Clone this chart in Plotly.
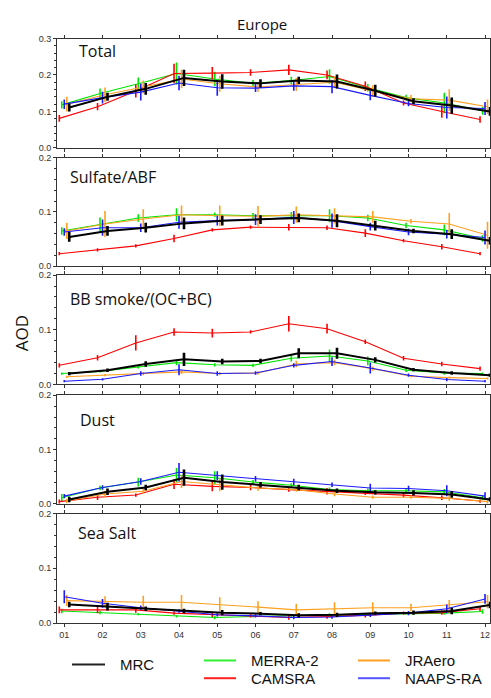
import plotly.graph_objects as go

W, H = 491, 698

months = list(range(1, 13))
month_labels = ["01", "02", "03", "04", "05", "06", "07", "08", "09", "10", "11", "12"]
panel_names = ["Total", "Sulfate/ABF", "BB smoke/(OC+BC)", "Dust", "Sea Salt"]
model_names = ["MRC", "MERRA-2", "CAMSRA", "JRAero", "NAAPS-RA"]

# ---- Total ----
mrc_total = [0.111, 0.140, 0.162, 0.192, 0.182, 0.177, 0.185, 0.182, 0.157, 0.128, 0.116, 0.100]
mrc_total_err = [0.011, 0.011, 0.016, 0.022, 0.020, 0.011, 0.010, 0.019, 0.016, 0.008, 0.022, 0.012]
merra_total = [0.118, 0.149, 0.176, 0.204, 0.189, 0.177, 0.185, 0.196, 0.165, 0.138, 0.123, 0.102]
merra_total_err = [0.010, 0.014, 0.017, 0.030, 0.020, 0.009, 0.010, 0.020, 0.010, 0.008, 0.028, 0.011]
cams_total = [0.081, 0.113, 0.156, 0.204, 0.205, 0.207, 0.214, 0.200, 0.169, 0.123, 0.100, 0.078]
cams_total_err = [0.009, 0.010, 0.018, 0.027, 0.017, 0.009, 0.014, 0.012, 0.013, 0.007, 0.017, 0.009]
jra_total = [0.120, 0.146, 0.167, 0.189, 0.176, 0.167, 0.174, 0.180, 0.156, 0.135, 0.131, 0.113]
jra_total_err = [0.020, 0.020, 0.018, 0.025, 0.022, 0.013, 0.018, 0.016, 0.016, 0.010, 0.030, 0.020]
naaps_total = [0.120, 0.138, 0.153, 0.178, 0.165, 0.164, 0.170, 0.168, 0.144, 0.122, 0.111, 0.108]
naaps_total_err = [0.013, 0.016, 0.023, 0.020, 0.022, 0.011, 0.013, 0.018, 0.013, 0.008, 0.030, 0.018]

# ---- Sulfate/ABF ----
mrc_sulf = [0.054, 0.065, 0.071, 0.079, 0.084, 0.086, 0.089, 0.084, 0.075, 0.065, 0.059, 0.047]
mrc_sulf_err = [0.009, 0.009, 0.009, 0.011, 0.009, 0.008, 0.008, 0.012, 0.009, 0.004, 0.009, 0.007]
merra_sulf = [0.065, 0.077, 0.089, 0.095, 0.095, 0.093, 0.093, 0.093, 0.089, 0.075, 0.067, 0.051]
merra_sulf_err = [0.007, 0.013, 0.007, 0.012, 0.004, 0.005, 0.007, 0.012, 0.006, 0.005, 0.010, 0.006]
cams_sulf = [0.023, 0.030, 0.0375, 0.051, 0.067, 0.072, 0.072, 0.071, 0.061, 0.047, 0.036, 0.023]
cams_sulf_err = [0.003, 0.003, 0.003, 0.007, 0.003, 0.003, 0.006, 0.004, 0.007, 0.003, 0.005, 0.003]
jra_sulf = [0.065, 0.078, 0.087, 0.095, 0.093, 0.092, 0.095, 0.093, 0.091, 0.083, 0.078, 0.057]
jra_sulf_err = [0.015, 0.024, 0.018, 0.017, 0.019, 0.019, 0.015, 0.014, 0.011, 0.004, 0.020, 0.025]
naaps_sulf = [0.063, 0.071, 0.071, 0.081, 0.084, 0.086, 0.090, 0.084, 0.073, 0.063, 0.059, 0.053]
naaps_sulf_err = [0.007, 0.015, 0.008, 0.012, 0.009, 0.010, 0.012, 0.013, 0.007, 0.006, 0.008, 0.013]

# ---- BB smoke/(OC+BC) ----
mrc_bb = [0.020, 0.026, 0.0375, 0.046, 0.042, 0.043, 0.057, 0.057, 0.045, 0.027, 0.021, 0.017]
mrc_bb_err = [0.003, 0.003, 0.005, 0.012, 0.005, 0.004, 0.009, 0.010, 0.005, 0.003, 0.003, 0.003]
merra_bb = [0.020, 0.024, 0.032, 0.040, 0.036, 0.035, 0.048, 0.052, 0.043, 0.026, 0.021, 0.020]
merra_bb_err = [0.002, 0.002, 0.003, 0.005, 0.003, 0.003, 0.006, 0.012, 0.008, 0.003, 0.003, 0.002]
cams_bb = [0.035, 0.049, 0.076, 0.096, 0.094, 0.096, 0.111, 0.102, 0.078, 0.048, 0.0375, 0.029]
cams_bb_err = [0.004, 0.005, 0.014, 0.007, 0.008, 0.003, 0.014, 0.009, 0.004, 0.004, 0.004, 0.004]
jra_bb = [0.014, 0.017, 0.020, 0.023, 0.020, 0.021, 0.0375, 0.040, 0.029, 0.015, 0.0125, 0.011]
jra_bb_err = [0.002, 0.002, 0.003, 0.004, 0.003, 0.003, 0.006, 0.005, 0.004, 0.002, 0.002, 0.002]
naaps_bb = [0.006, 0.0095, 0.020, 0.027, 0.020, 0.021, 0.035, 0.042, 0.030, 0.017, 0.009, 0.006]
naaps_bb_err = [0.002, 0.002, 0.004, 0.010, 0.004, 0.003, 0.004, 0.008, 0.010, 0.003, 0.003, 0.002]

# ---- Dust ----
mrc_dust = [0.008, 0.022, 0.030, 0.048, 0.040, 0.035, 0.030, 0.024, 0.021, 0.020, 0.017, 0.008]
mrc_dust_err = [0.005, 0.006, 0.005, 0.015, 0.014, 0.005, 0.005, 0.004, 0.004, 0.005, 0.006, 0.004]
merra_dust = [0.011, 0.029, 0.040, 0.053, 0.048, 0.040, 0.034, 0.026, 0.024, 0.024, 0.022, 0.011]
merra_dust_err = [0.007, 0.004, 0.008, 0.013, 0.012, 0.004, 0.004, 0.004, 0.004, 0.005, 0.005, 0.004]
cams_dust = [0.004, 0.012, 0.016, 0.036, 0.032, 0.030, 0.026, 0.023, 0.020, 0.016, 0.011, 0.005]
cams_dust_err = [0.004, 0.005, 0.003, 0.009, 0.009, 0.005, 0.004, 0.006, 0.004, 0.004, 0.004, 0.003]
jra_dust = [0.005, 0.018, 0.023, 0.041, 0.035, 0.029, 0.026, 0.018, 0.012, 0.012, 0.010, 0.004]
jra_dust_err = [0.004, 0.006, 0.005, 0.012, 0.012, 0.005, 0.004, 0.004, 0.003, 0.003, 0.005, 0.004]
naaps_dust = [0.014, 0.030, 0.041, 0.058, 0.052, 0.046, 0.040, 0.035, 0.029, 0.028, 0.024, 0.014]
naaps_dust_err = [0.004, 0.004, 0.006, 0.017, 0.008, 0.005, 0.006, 0.004, 0.008, 0.005, 0.010, 0.007]

# ---- Sea Salt ----
mrc_ss = [0.034, 0.030, 0.026, 0.022, 0.019, 0.017, 0.014, 0.015, 0.018, 0.019, 0.022, 0.033]
mrc_ss_err = [0.005, 0.007, 0.004, 0.004, 0.005, 0.003, 0.004, 0.004, 0.003, 0.004, 0.006, 0.006]
merra_ss = [0.022, 0.019, 0.016, 0.012, 0.010, 0.012, 0.013, 0.014, 0.016, 0.017, 0.018, 0.021]
merra_ss_err = [0.004, 0.003, 0.002, 0.002, 0.003, 0.002, 0.002, 0.004, 0.003, 0.002, 0.003, 0.004]
cams_ss = [0.024, 0.024, 0.024, 0.018, 0.015, 0.013, 0.010, 0.012, 0.014, 0.018, 0.019, 0.026]
cams_ss_err = [0.006, 0.006, 0.005, 0.003, 0.004, 0.003, 0.004, 0.004, 0.004, 0.003, 0.004, 0.004]
jra_ss = [0.041, 0.039, 0.038, 0.038, 0.034, 0.029, 0.024, 0.026, 0.028, 0.028, 0.033, 0.039]
jra_ss_err = [0.010, 0.010, 0.012, 0.013, 0.013, 0.011, 0.011, 0.012, 0.010, 0.007, 0.009, 0.012]
naaps_ss = [0.048, 0.036, 0.028, 0.022, 0.015, 0.013, 0.010, 0.011, 0.015, 0.018, 0.026, 0.044]
naaps_ss_err = [0.012, 0.008, 0.004, 0.003, 0.003, 0.003, 0.003, 0.003, 0.004, 0.004, 0.008, 0.009]

panels = [
    {"MRC": (mrc_total, mrc_total_err), "MERRA-2": (merra_total, merra_total_err),
     "CAMSRA": (cams_total, cams_total_err), "JRAero": (jra_total, jra_total_err),
     "NAAPS-RA": (naaps_total, naaps_total_err)},
    {"MRC": (mrc_sulf, mrc_sulf_err), "MERRA-2": (merra_sulf, merra_sulf_err),
     "CAMSRA": (cams_sulf, cams_sulf_err), "JRAero": (jra_sulf, jra_sulf_err),
     "NAAPS-RA": (naaps_sulf, naaps_sulf_err)},
    {"MRC": (mrc_bb, mrc_bb_err), "MERRA-2": (merra_bb, merra_bb_err),
     "CAMSRA": (cams_bb, cams_bb_err), "JRAero": (jra_bb, jra_bb_err),
     "NAAPS-RA": (naaps_bb, naaps_bb_err)},
    {"MRC": (mrc_dust, mrc_dust_err), "MERRA-2": (merra_dust, merra_dust_err),
     "CAMSRA": (cams_dust, cams_dust_err), "JRAero": (jra_dust, jra_dust_err),
     "NAAPS-RA": (naaps_dust, naaps_dust_err)},
    {"MRC": (mrc_ss, mrc_ss_err), "MERRA-2": (merra_ss, merra_ss_err),
     "CAMSRA": (cams_ss, cams_ss_err), "JRAero": (jra_ss, jra_ss_err),
     "NAAPS-RA": (naaps_ss, naaps_ss_err)},
]
y_max = [0.3, 0.2, 0.2, 0.2, 0.2]

# styles
colors = {"MRC": "#000000", "MERRA-2": "#00e600", "CAMSRA": "#ff0000",
          "JRAero": "#ffa020", "NAAPS-RA": "#1a1aff"}
legend_colors = {"MRC": "#222222", "MERRA-2": "#33ee33", "CAMSRA": "#ff2020",
                 "JRAero": "#ffa020", "NAAPS-RA": "#5555ff"}
offsets = {"CAMSRA": -0.13, "MERRA-2": -0.065, "NAAPS-RA": 0.0, "JRAero": 0.065, "MRC": 0.13}
line_w = {"MRC": 2.0, "MERRA-2": 1.1, "CAMSRA": 1.1, "JRAero": 1.1, "NAAPS-RA": 1.1}
err_w = {"MRC": 2.6, "MERRA-2": 1.6, "CAMSRA": 1.6, "JRAero": 1.6, "NAAPS-RA": 1.6}
draw_order = ["MERRA-2", "CAMSRA", "JRAero", "NAAPS-RA", "MRC"]

# panel pixel bounds in the reference picture (top, bottom)
panel_px = [(34, 145), (155, 265), (274, 385), (396, 506), (516, 627)]
x_px = (57, 490)

def px_x(x):
    return x / W

def px_y(y):
    return 1 - y / H

fig = go.Figure()
axis_color = "#333333"
tick_font = dict(family="Liberation Sans, Arial", size=9, color="#333333")

for i, data in enumerate(panels):
    n = i + 1
    xa = "x" if n == 1 else f"x{n}"
    ya = "y" if n == 1 else f"y{n}"
    for m in draw_order:
        vals, errs = data[m]
        fig.add_trace(go.Scatter(
            x=[mm + offsets[m] for mm in months], y=vals,
            mode="lines", line=dict(color=colors[m], width=line_w[m]),
            error_y=dict(type="data", array=errs, visible=True, width=0,
                         thickness=err_w[m], color=colors[m]),
            xaxis=xa, yaxis=ya, showlegend=False, hoverinfo="skip"))
    top, bot = panel_px[i]
    xkey = "xaxis" if n == 1 else f"xaxis{n}"
    ykey = "yaxis" if n == 1 else f"yaxis{n}"
    fig.layout[xkey] = dict(
        domain=[px_x(x_px[0]), px_x(x_px[1])], anchor=ya, range=[0.81, 12.13],
        tickmode="array", tickvals=months, ticktext=month_labels,
        showticklabels=(n == 5), ticks="outside", ticklen=3, tickwidth=1,
        tickcolor=axis_color, showline=True, linecolor=axis_color, linewidth=1,
        mirror="ticks", showgrid=False, zeroline=False, tickfont=tick_font,
    )
    fig.layout[ykey] = dict(
        domain=[px_y(bot), px_y(top)], anchor=xa, range=[0, y_max[i]],
        tickmode="linear", tick0=0, dtick=0.1, tickformat=".1f",
        ticks="outside", ticklen=3, tickwidth=1, tickcolor=axis_color,
        minor=dict(ticks="outside", ticklen=2, dtick=0.02, tick0=0, tickcolor=axis_color),
        showline=True, linecolor=axis_color, linewidth=1, mirror=True,
        showgrid=False, zeroline=False, tickfont=tick_font,
    )

annotations = []
label_pos = [(77, 47), (68, 175), (68, 298), (78, 421), (76, 536)]
for name, (lx, ly) in zip(panel_names, label_pos):
    annotations.append(dict(text=name, x=px_x(lx), y=px_y(ly), xref="paper", yref="paper",
                            xanchor="left", yanchor="middle", showarrow=False,
                            font=dict(family="Open Sans", size=16, color="#111111")))
annotations.append(dict(text="Europe", x=px_x(262), y=px_y(19), xref="paper", yref="paper",
                        xanchor="center", yanchor="middle", showarrow=False,
                        font=dict(family="Open Sans", size=15, color="#111111")))
annotations.append(dict(text="AOD", x=px_x(21), y=px_y(333), xref="paper", yref="paper",
                        xanchor="center", yanchor="middle", showarrow=False, textangle=-90,
                        font=dict(family="Open Sans", size=17, color="#111111")))

# legend (manual layout)
shapes = []
leg_items = [("MRC", 72, 105, 669, 118), ("MERRA-2", 204, 236, 665, 249),
             ("CAMSRA", 204, 236, 683, 249), ("JRAero", 358, 390, 665, 403),
             ("NAAPS-RA", 358, 390, 683, 403)]
for name, x0, x1, yy, tx in leg_items:
    shapes.append(dict(type="line", xref="paper", yref="paper", x0=px_x(x0), x1=px_x(x1),
                       y0=px_y(yy), y1=px_y(yy),
                       line=dict(color=legend_colors[name], width=2)))
    annotations.append(dict(text=name, x=px_x(tx), y=px_y(yy), xref="paper", yref="paper",
                            xanchor="left", yanchor="middle", showarrow=False,
                            font=dict(family="Liberation Sans, Arial", size=15, color="#111111")))

fig.update_layout(
    width=W, height=H, margin=dict(l=0, r=0, t=0, b=0),
    paper_bgcolor="white", plot_bgcolor="white",
    annotations=annotations, shapes=shapes, showlegend=False,
)

fig.write_html("out.html", config={"displayModeBar": False, "staticPlot": True},
               post_script="document.body.style.margin='0';document.body.style.overflow='hidden';")
